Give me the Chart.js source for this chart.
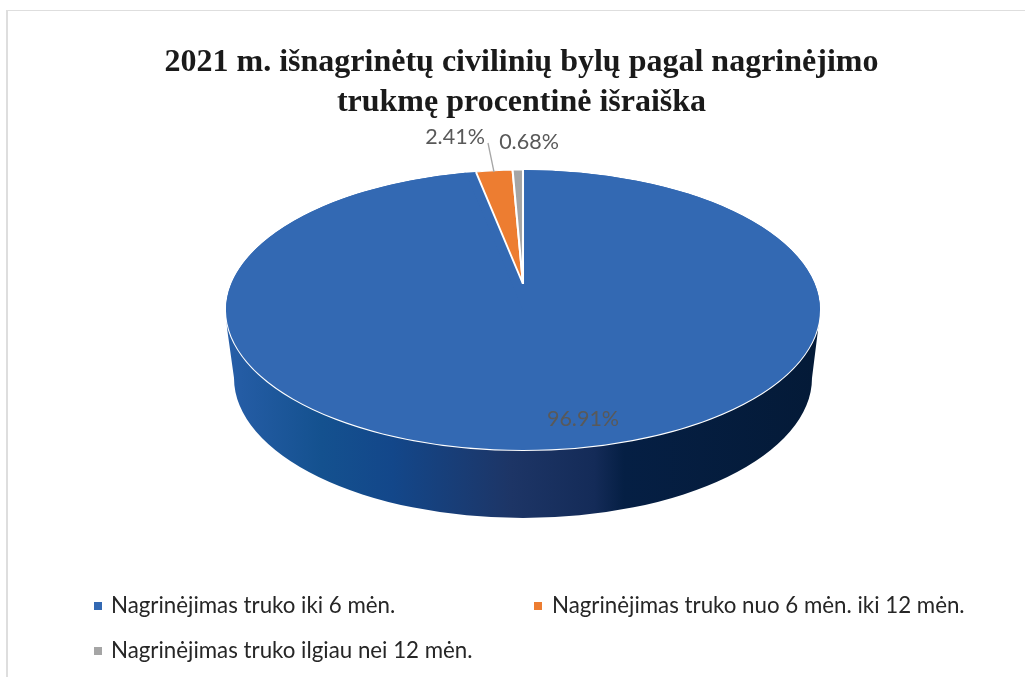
<!DOCTYPE html>
<html>
<head>
<meta charset="utf-8">
<style>
  html, body { margin: 0; padding: 0; background: #fff; }
  #frame { position: absolute; left: 6px; top: 10px; right: 0; bottom: 0; border-left: 2px solid #dedede; border-top: 1px solid #dedede; }
  #grafico { position: absolute; left: 0; top: 0; display: block; }
</style>
</head>
<body>
<div id="frame"></div>
<canvas id="grafico" width="1025" height="677"></canvas>
<script src="https://cdn.jsdelivr.net/npm/chart.js@4"></script>
<script>
const titleLines = ['2021 m. išnagrinėtų civilinių bylų pagal nagrinėjimo', 'trukmę procentinė išraiška']
const categories = ['Nagrinėjimas truko iki 6 mėn.', 'Nagrinėjimas truko nuo 6 mėn. iki 12 mėn.', 'Nagrinėjimas truko ilgiau nei 12 mėn.']
const values = [96.91, 2.41, 0.68]
const colors = ['#3369b3', '#ed7d31', '#a5a5a5']
const borderWidths = [0, 2.5, 2.5]

// pie geometry
const faceX = 523, faceY = 310, faceRx = 297, faceRy = 140
const apexY = 284, wedgeSx = 0.82, wedgeSy = 0.384
const floorY = 378, floorRx = 289, floorRy = 140

const labelSpots = [[455, 137], [529, 142], [583, 419]]
const labelValues = [values[1], values[2], values[0]]
const legendSpots = [[94, 111, 613], [534, 552, 613], [94, 111, 658]]

const pie3d = {
  id: 'pie3d',
  beforeDatasetDraw(chart, args) {
    const ctx = chart.ctx
    const meta = args.meta

    // side wall
    const wall = ctx.createLinearGradient(faceX - faceRx, 0, faceX + faceRx, 0)
    wall.addColorStop(0, '#275ea8')
    wall.addColorStop(0.16, '#14518f')
    wall.addColorStop(0.28, '#13478a')
    wall.addColorStop(0.48, '#1d3566')
    wall.addColorStop(0.62, '#142b58')
    wall.addColorStop(0.67, '#051f44')
    wall.addColorStop(1, '#041a37')
    ctx.save()
    ctx.beginPath()
    ctx.moveTo(faceX - faceRx + 1, faceY + 18)
    ctx.ellipse(faceX, floorY, floorRx, floorRy, 0, Math.PI, 0, true)
    ctx.lineTo(faceX + faceRx - 2, faceY + 20)
    ctx.ellipse(faceX, faceY, faceRx, faceRy, 0, 0, Math.PI, false)
    ctx.closePath()
    ctx.fillStyle = wall
    ctx.fill()

    // top face under the slices, so the blue closes around the wedge apex
    ctx.beginPath()
    ctx.ellipse(faceX, faceY, faceRx, faceRy, 0, 0, Math.PI * 2)
    ctx.fillStyle = colors[0]
    ctx.fill()
    ctx.strokeStyle = '#ffffff'
    ctx.lineWidth = 2
    ctx.beginPath()
    ctx.ellipse(faceX, faceY, faceRx, faceRy, 0, 0, Math.PI)
    ctx.stroke()
    ctx.restore()

    meta.data.forEach((arc, i) => {
      ctx.save()
      if (i === 0) {
        ctx.translate(faceX, faceY)
        ctx.scale(1, faceRy / faceRx)
      } else {
        ctx.translate(faceX, apexY)
        ctx.scale(wedgeSx, wedgeSy)
      }
      ctx.translate(-arc.x, -arc.y)
      arc.draw(ctx)
      ctx.restore()
    })
    return false
  },
  afterDraw(chart) {
    const ctx = chart.ctx
    ctx.save()

    // leader line of the orange slice
    ctx.strokeStyle = '#a6a6a6'
    ctx.lineWidth = 1.3
    ctx.beginPath()
    ctx.moveTo(488, 143)
    ctx.lineTo(494, 172)
    ctx.stroke()

    ctx.font = '21.5px Lato'
    ctx.fillStyle = '#595959'
    ctx.textAlign = 'center'
    ctx.textBaseline = 'middle'
    labelValues.forEach((v, i) => {
      ctx.fillText(v.toFixed(2) + '%', labelSpots[i][0], labelSpots[i][1])
    })

    ctx.textAlign = 'left'
    ctx.textBaseline = 'alphabetic'
    ctx.font = '22.3px Lato'
    categories.forEach((c, i) => {
      const s = legendSpots[i]
      ctx.fillStyle = colors[i]
      ctx.fillRect(s[0], s[2] - 11, 8, 8)
      ctx.fillStyle = '#262626'
      ctx.fillText(c, s[1], s[2])
    })
    ctx.restore()
  }
}

const grafico = document.getElementById('grafico').getContext('2d')

new Chart(grafico, {
  type: 'pie',
  data: {
    labels: categories,
    datasets: [{
      data: values,
      backgroundColor: colors,
      borderColor: '#ffffff',
      borderWidth: borderWidths,
      radius: faceRx
    }]
  },
  options: {
    responsive: false,
    animation: false,
    layout: { padding: { left: 18, top: 43 } },
    plugins: {
      legend: { display: false },
      tooltip: { enabled: false },
      title: {
        display: true,
        text: titleLines,
        color: '#1a1a1a',
        font: { family: '"Liberation Serif"', size: 32, weight: 'bold', lineHeight: 1.25 },
        padding: 0
      }
    }
  },
  plugins: [pie3d]
})
</script>
</body>
</html>
